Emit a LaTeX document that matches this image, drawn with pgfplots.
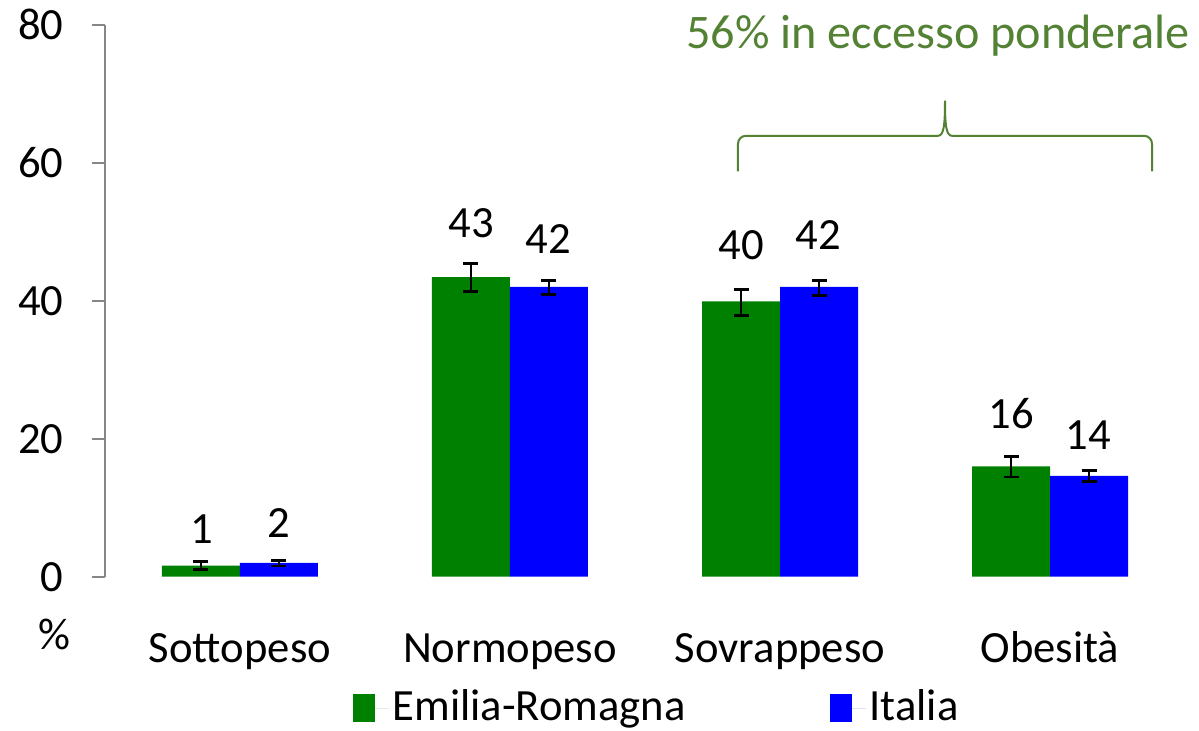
\documentclass[border=0pt]{standalone}
\usepackage{pgfplots}
\pgfplotsset{compat=1.18}
\usepackage{pgfplotstable}
\usepackage{fontspec}
\setmainfont{Carlito}
\definecolor{erGreen}{RGB}{0,128,0}
\definecolor{itBlue}{RGB}{0,0,255}
\definecolor{braceGreen}{RGB}{84,130,53}
\definecolor{axisGray}{RGB}{134,134,134}

% x = category index, y = %, ep/em = error plus/minus
\pgfplotstableread{
x y ep em
0 1.6 0.55 0.55
1 43.4 1.95 2.05
2 39.9 1.7 2.1
3 16.0 1.4 1.55
}\emilia
\pgfplotstableread{
x y ep em
0 2.0 0.3 0.45
1 42.0 0.95 1.05
2 42.0 0.95 1.2
3 14.6 0.75 0.75
}\italia

\begin{document}
\fontsize{22.4}{26.9}\selectfont
\begin{tikzpicture}
\begin{axis}[
  scale only axis,
  width=540bp, height=276bp,
  ybar=0pt, bar width=39bp,
  xmin=-0.5, xmax=3.5, ymin=0, ymax=80,
  xtick={0,1,2,3},
  xticklabels={Sottopeso,Normopeso,Sovrappeso,Obesità},
  ytick={0,20,40,60,80},
  axis y line*=left, axis x line*=bottom,
  x axis line style={draw=none},
  y axis line style={axisGray, line width=0.8bp},
  x tick style={draw=none},
  y tick style={axisGray, line width=0.8bp},
  tick align=outside,
  major tick length=6.5bp,
  /pgf/number format/assume math mode=true,
  yticklabel style={anchor=east, inner sep=0pt, xshift=-14bp},
  xticklabel style={anchor=base, inner sep=0pt, yshift=-36.5bp},
  clip=false,
  error bars/error bar style={black, line width=1.4bp},
  error bars/error mark options={rotate=90, black, line width=1.4bp, mark size=3.75bp},
  legend columns=2,
  legend style={at={(rel axis cs:0.5116,-0.238)}, anchor=center, draw=none, fill=none,
    /tikz/every even column/.append style={column sep=70bp}},
  legend image code/.code={\fill[#1, draw=none] (0bp,-7bp) rectangle (11bp,7bp);
    \path (0bp,0bp) -- (18bp,0bp);},
]
\addplot[fill=erGreen, draw=none,
  error bars/.cd, y dir=both, y explicit]
  table[x=x, y=y, y error plus=ep, y error minus=em] {\emilia};
\addplot[fill=itBlue, draw=none,
  error bars/.cd, y dir=both, y explicit]
  table[x=x, y=y, y error plus=ep, y error minus=em] {\italia};
\legend{Emilia-Romagna, Italia}

% value labels
\node at (axis cs:-0.1426,6.84) {1};
\node at (axis cs:0.1426,7.85) {2};
\node at (axis cs:0.8574,51.3) {43};
\node at (axis cs:1.1426,49.0) {42};
\node at (axis cs:1.8574,48.0) {40};
\node at (axis cs:2.1426,49.45) {42};
\node at (axis cs:2.8574,23.7) {16};
\node at (axis cs:3.1426,20.5) {14};

% percent label
\node[anchor=base, inner sep=0pt] at ([yshift=-36.5bp]rel axis cs:-0.0472,0) {\%};

% brace and annotation
\draw[braceGreen, line width=1bp, rounded corners=4bp]
  (axis cs:1.8444,58.76) -- (axis cs:1.8444,63.9) -- (axis cs:2.585,63.9);
\draw[braceGreen, line width=1bp]
  (axis cs:2.585,63.9) .. controls (axis cs:2.607,63.9) and (axis cs:2.6111,65.5) .. (axis cs:2.6111,68.99)
  .. controls (axis cs:2.6111,65.5) and (axis cs:2.615,63.9) .. (axis cs:2.637,63.9);
\draw[braceGreen, line width=1bp, rounded corners=4bp]
  (axis cs:2.637,63.9) -- (axis cs:3.3778,63.9) -- (axis cs:3.3778,58.76);
\node[braceGreen, font=\fontsize{24.2}{29}\selectfont] at (axis cs:2.5852,78.4) {56\% in eccesso ponderale};

\coordinate (bbsw) at (rel axis cs:-0.0972,-0.2790);
\coordinate (bbne) at (rel axis cs:1.01296,1.04475);
\end{axis}
\pgfresetboundingbox
\useasboundingbox (bbsw) rectangle (bbne);
\end{tikzpicture}
\end{document}
